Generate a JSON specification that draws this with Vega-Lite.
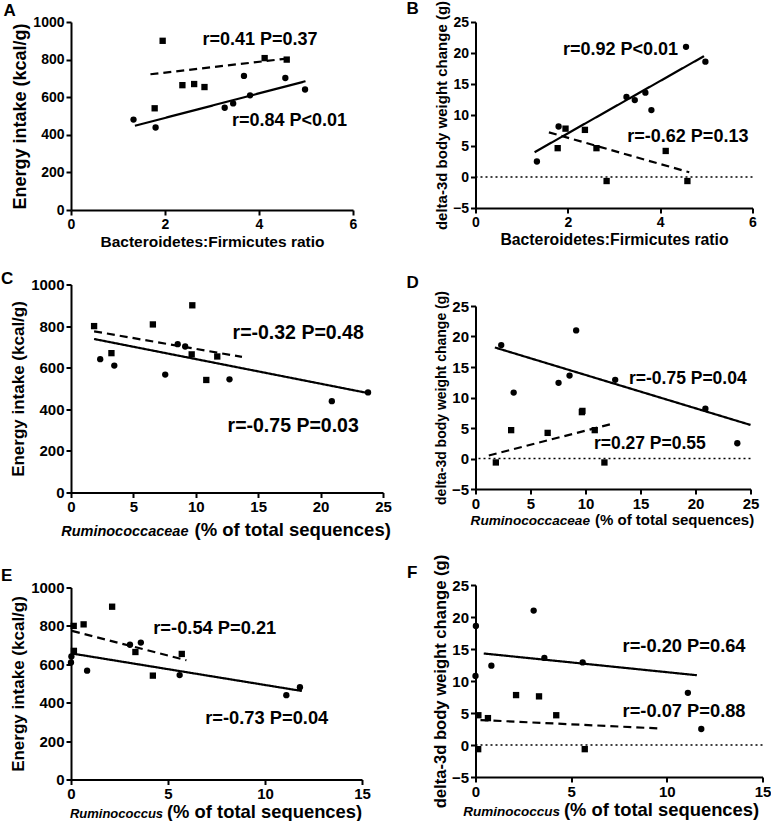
{
  "$schema": "https://vega.github.io/schema/vega-lite/v6.json",
  "padding": {"left": 1, "top": 0, "right": 0, "bottom": 0},
  "background": "white",
  "datasets": {
    "animals": [
      {"id": "c1", "g": "c", "bf": 1.33, "rumf": 23.8, "rum": 11.8, "energy": 481, "dbw": 2.5},
      {"id": "c2", "g": "c", "bf": 1.80, "rumf": 20.9, "rum": 11.1, "energy": 439, "dbw": 8.15},
      {"id": "c3", "g": "c", "bf": 3.27, "rumf": 12.7, "rum": 5.6, "energy": 544, "dbw": 12.9},
      {"id": "c4", "g": "c", "bf": 3.45, "rumf": 7.55, "rum": 0.83, "energy": 567, "dbw": 12.4},
      {"id": "c5", "g": "c", "bf": 3.68, "rumf": 8.55, "rum": 3.6, "energy": 713, "dbw": 13.6},
      {"id": "c6", "g": "c", "bf": 3.81, "rumf": 3.47, "rum": 0.0, "energy": 610, "dbw": 10.8},
      {"id": "c7", "g": "c", "bf": 4.56, "rumf": 9.15, "rum": 3.04, "energy": 702, "dbw": 21.0},
      {"id": "c8", "g": "c", "bf": 4.98, "rumf": 2.34, "rum": 0.02, "energy": 641, "dbw": 18.6},
      {"id": "s1", "g": "s", "bf": 1.78, "rumf": 10.84, "rum": 4.22, "energy": 541, "dbw": 4.65},
      {"id": "s2", "g": "s", "bf": 1.95, "rumf": 9.72, "rum": 2.12, "energy": 900, "dbw": 7.8},
      {"id": "s3", "g": "s", "bf": 2.37, "rumf": 9.67, "rum": 3.32, "energy": 664, "dbw": 7.6},
      {"id": "s4", "g": "s", "bf": 2.62, "rumf": 3.24, "rum": 0.15, "energy": 670, "dbw": 4.65},
      {"id": "s5", "g": "s", "bf": 2.84, "rumf": 11.72, "rum": 5.71, "energy": 654, "dbw": -0.65},
      {"id": "s6", "g": "s", "bf": 4.12, "rumf": 6.56, "rum": 0.65, "energy": 808, "dbw": 4.2},
      {"id": "s7", "g": "s", "bf": 4.59, "rumf": 1.85, "rum": 0.14, "energy": 800, "dbw": -0.65}
    ],
    "lines": [
      {"panel": "A", "g": "solid", "bf": 1.36, "energy": 448}, {"panel": "A", "g": "solid", "bf": 4.99, "energy": 685},
      {"panel": "A", "g": "dashed", "bf": 1.69, "energy": 722}, {"panel": "A", "g": "dashed", "bf": 4.62, "energy": 806},
      {"panel": "B", "g": "solid", "bf": 1.28, "dbw": 4.0}, {"panel": "B", "g": "solid", "bf": 4.95, "dbw": 19.5},
      {"panel": "B", "g": "dashed", "bf": 1.59, "dbw": 7.2}, {"panel": "B", "g": "dashed", "bf": 4.63, "dbw": 0.76},
      {"panel": "C", "g": "solid", "rumf": 1.85, "energy": 738}, {"panel": "C", "g": "solid", "rumf": 23.8, "energy": 478},
      {"panel": "C", "g": "dashed", "rumf": 1.85, "energy": 775}, {"panel": "C", "g": "dashed", "rumf": 13.7, "energy": 652},
      {"panel": "D", "g": "solid", "rumf": 1.76, "dbw": 18.2}, {"panel": "D", "g": "solid", "rumf": 25.0, "dbw": 5.5},
      {"panel": "D", "g": "dashed", "rumf": 1.21, "dbw": 0.5}, {"panel": "D", "g": "dashed", "rumf": 12.45, "dbw": 5.7},
      {"panel": "E", "g": "solid", "rum": 0.0, "energy": 657}, {"panel": "E", "g": "solid", "rum": 11.9, "energy": 461},
      {"panel": "E", "g": "dashed", "rum": 0.05, "energy": 774}, {"panel": "E", "g": "dashed", "rum": 5.95, "energy": 621},
      {"panel": "F", "g": "solid", "rum": 0.43, "dbw": 14.3}, {"panel": "F", "g": "solid", "rum": 11.57, "dbw": 10.9},
      {"panel": "F", "g": "dashed", "rum": 0.26, "dbw": 3.9}, {"panel": "F", "g": "dashed", "rum": 9.53, "dbw": 2.6}
    ],
    "notes": [
      {"panel": "A", "bf": 4.02, "energy": 905, "label": "r=0.41 P=0.37"},
      {"panel": "A", "bf": 4.65, "energy": 471, "label": "r=0.84 P<0.01"},
      {"panel": "B", "bf": 3.14, "dbw": 20.5, "label": "r=0.92 P<0.01"},
      {"panel": "B", "bf": 4.6, "dbw": 6.5, "label": "r=-0.62 P=0.13"},
      {"panel": "C", "rumf": 18.2, "energy": 767, "label": "r=-0.32 P=0.48"},
      {"panel": "C", "rumf": 17.8, "energy": 321, "label": "r=-0.75 P=0.03"},
      {"panel": "D", "rumf": 19.3, "dbw": 13.0, "label": "r=-0.75 P=0.04"},
      {"panel": "D", "rumf": 15.85, "dbw": 2.3, "label": "r=0.27 P=0.55"},
      {"panel": "E", "rum": 7.41, "energy": 786, "label": "r=-0.54 P=0.21"},
      {"panel": "E", "rum": 10.09, "energy": 317, "label": "r=-0.73 P=0.04"},
      {"panel": "F", "rum": 10.9, "dbw": 15.35, "label": "r=-0.20 P=0.64"},
      {"panel": "F", "rum": 10.9, "dbw": 5.1, "label": "r=-0.07 P=0.88"}
    ],
    "zero": [{"dbw": 0}]
  },
  "hconcat": [
    {
      "spacing": 27.5,
      "vconcat": [
        {
          "spacing": 19.5,
          "vconcat": [
            {
              "width": 282, "height": 188,
              "title": {"text": "A", "offset": -5, "dx": -67.5},
              "encoding": {
                "x": {"field": "bf", "type": "quantitative", "scale": {"domain": [0, 6], "nice": false, "zero": false},
                  "axis": {"values": [0, 2, 4, 6], "title": "Bacteroidetes:Firmicutes ratio", "titleFontSize": 15.5, "titleY": 36, "titleBaseline": "alphabetic"}},
                "y": {"field": "energy", "type": "quantitative", "scale": {"domain": [0, 1000], "nice": false, "zero": false},
                  "axis": {"values": [0, 200, 400, 600, 800, 1000], "format": "d", "title": "Energy intake (kcal/g)", "titleFontSize": 18}}
              },
              "layer": [
                {
                  "data": {"name": "animals"},
                  "mark": {"type": "point", "filled": true, "opacity": 1, "color": "black", "size": 40},
                  "encoding": {
                    "shape": {"field": "g", "type": "nominal", "scale": {"domain": ["c", "s"], "range": ["circle", "square"]}, "legend": null}
                  }
                },
                {
                  "data": {"name": "lines"},
                  "transform": [{"filter": "datum.panel === 'A'"}],
                  "mark": {"type": "line", "color": "black", "strokeWidth": 2.2},
                  "encoding": {
                    "detail": {"field": "g", "type": "nominal"},
                    "strokeDash": {"field": "g", "type": "nominal", "scale": {"domain": ["solid", "dashed"], "range": [[1, 0], [8, 5]]}, "legend": null}
                  }
                },
                {
                  "data": {"name": "notes"},
                  "transform": [{"filter": "datum.panel === 'A'"}],
                  "mark": {"type": "text", "fontSize": 18, "fontWeight": "bold", "color": "black"},
                  "encoding": {"text": {"field": "label"}}
                }
              ]
            },
            {
              "width": 312, "height": 208,
              "title": {"text": "C", "offset": -10.8, "dx": -70},
              "resolve": {"axis": {"x": "independent"}},
              "encoding": {
                "y": {"field": "energy", "type": "quantitative", "scale": {"domain": [0, 1000], "nice": false, "zero": false},
                  "axis": {"values": [0, 200, 400, 600, 800, 1000], "format": "d", "labelFontSize": 15, "title": "Energy intake (kcal/g)", "titleFontSize": 17}}
              },
              "layer": [
                {
                  "data": {"name": "animals"},
                  "mark": {"type": "point", "filled": true, "opacity": 1, "color": "black", "size": 40},
                  "encoding": {
                    "x": {"field": "rumf", "type": "quantitative", "scale": {"domain": [0, 25], "nice": false, "zero": false},
                      "axis": {"orient": "bottom", "values": [0, 5, 10, 15, 20, 25], "labelFontSize": 15, "title": "(% of total sequences)", "titleFontSize": 18.5, "titleAlign": "left", "titleX": 123, "titleY": 42.5, "titleBaseline": "alphabetic"}},
                    "shape": {"field": "g", "type": "nominal", "scale": {"domain": ["c", "s"], "range": ["circle", "square"]}, "legend": null}
                  }
                },
                {
                  "data": {"name": "lines"},
                  "transform": [{"filter": "datum.panel === 'C'"}],
                  "mark": {"type": "line", "color": "black", "strokeWidth": 2.2},
                  "encoding": {
                    "x": {"field": "rumf", "type": "quantitative",
                      "axis": {"orient": "bottom", "labels": false, "ticks": false, "domain": false, "title": "Ruminococcaceae", "titleFontStyle": "italic", "titleFontSize": 14.5, "titleAlign": "right", "titleX": 117, "titleY": 42.5, "titleBaseline": "alphabetic"}},
                    "detail": {"field": "g", "type": "nominal"},
                    "strokeDash": {"field": "g", "type": "nominal", "scale": {"domain": ["solid", "dashed"], "range": [[1, 0], [8, 5]]}, "legend": null}
                  }
                },
                {
                  "data": {"name": "notes"},
                  "transform": [{"filter": "datum.panel === 'C'"}],
                  "mark": {"type": "text", "fontSize": 19.5, "fontWeight": "bold", "color": "black"},
                  "encoding": {
                    "x": {"field": "rumf", "type": "quantitative", "axis": null},
                    "text": {"field": "label"}
                  }
                }
              ]
            }
          ]
        },
        {
          "width": 291, "height": 192,
          "title": {"text": "E", "offset": -4.2, "dx": -70},
          "resolve": {"axis": {"x": "independent"}},
          "encoding": {
            "y": {"field": "energy", "type": "quantitative", "scale": {"domain": [0, 1000], "nice": false, "zero": false},
              "axis": {"values": [0, 200, 400, 600, 800, 1000], "format": "d", "labelFontSize": 15, "title": "Energy intake (kcal/g)", "titleFontSize": 17}}
          },
          "layer": [
            {
              "data": {"name": "animals"},
              "mark": {"type": "point", "filled": true, "opacity": 1, "color": "black", "size": 40},
              "encoding": {
                "x": {"field": "rum", "type": "quantitative", "scale": {"domain": [0, 15], "nice": false, "zero": false},
                  "axis": {"orient": "bottom", "values": [0, 5, 10, 15], "labelFontSize": 15, "title": "(% of total sequences)", "titleFontSize": 18.4, "titleAlign": "left", "titleX": 95.5, "titleY": 38, "titleBaseline": "alphabetic"}},
                "shape": {"field": "g", "type": "nominal", "scale": {"domain": ["c", "s"], "range": ["circle", "square"]}, "legend": null}
              }
            },
            {
              "data": {"name": "lines"},
              "transform": [{"filter": "datum.panel === 'E'"}],
              "mark": {"type": "line", "color": "black", "strokeWidth": 2.2},
              "encoding": {
                "x": {"field": "rum", "type": "quantitative",
                  "axis": {"orient": "bottom", "labels": false, "ticks": false, "domain": false, "title": "Ruminococcus", "titleFontStyle": "italic", "titleFontSize": 13, "titleAlign": "right", "titleX": 91.6, "titleY": 38, "titleBaseline": "alphabetic"}},
                "detail": {"field": "g", "type": "nominal"},
                "strokeDash": {"field": "g", "type": "nominal", "scale": {"domain": ["solid", "dashed"], "range": [[1, 0], [8, 5]]}, "legend": null}
              }
            },
            {
              "data": {"name": "notes"},
              "transform": [{"filter": "datum.panel === 'E'"}],
              "mark": {"type": "text", "fontSize": 18.3, "fontWeight": "bold", "color": "black"},
              "encoding": {
                "x": {"field": "rum", "type": "quantitative", "axis": null},
                "text": {"field": "label"}
              }
            }
          ]
        }
      ]
    },
    {
      "spacing": 26,
      "vconcat": [
        {
          "spacing": 27,
          "vconcat": [
            {
              "width": 277, "height": 186,
              "title": {"text": "B", "offset": -18, "dx": -69},
              "resolve": {"axis": {"x": "independent"}},
              "encoding": {
                "y": {"field": "dbw", "type": "quantitative", "scale": {"domain": [-5, 25], "nice": false, "zero": false},
                  "axis": {"values": [-5, 0, 5, 10, 15, 20, 25], "title": "delta-3d body weight change (g)", "titleFontSize": 15}}
              },
              "layer": [
                {
                  "data": {"name": "zero"},
                  "mark": {"type": "rule", "color": "black", "strokeWidth": 1.5, "strokeDash": [2, 3]},
                  "encoding": {}
                },
                {
                  "data": {"name": "animals"},
                  "mark": {"type": "point", "filled": true, "opacity": 1, "color": "black", "size": 40},
                  "encoding": {
                    "x": {"field": "bf", "type": "quantitative", "scale": {"domain": [0, 6], "nice": false, "zero": false},
                      "axis": {"orient": "bottom", "values": [0, 2, 4, 6], "title": "Bacteroidetes:Firmicutes ratio", "titleFontSize": 15.8, "titleY": 36, "titleBaseline": "alphabetic"}},
                    "shape": {"field": "g", "type": "nominal", "scale": {"domain": ["c", "s"], "range": ["circle", "square"]}, "legend": null}
                  }
                },
                {
                  "data": {"name": "lines"},
                  "transform": [{"filter": "datum.panel === 'B'"}],
                  "mark": {"type": "line", "color": "black", "strokeWidth": 2.2},
                  "encoding": {
                    "x": {"field": "bf", "type": "quantitative", "axis": null},
                    "detail": {"field": "g", "type": "nominal"},
                    "strokeDash": {"field": "g", "type": "nominal", "scale": {"domain": ["solid", "dashed"], "range": [[1, 0], [8, 5]]}, "legend": null}
                  }
                },
                {
                  "data": {"name": "notes"},
                  "transform": [{"filter": "datum.panel === 'B'"}],
                  "mark": {"type": "text", "fontSize": 18, "fontWeight": "bold", "color": "black"},
                  "encoding": {
                    "x": {"field": "bf", "type": "quantitative", "axis": null},
                    "text": {"field": "label"}
                  }
                }
              ]
            },
            {
              "width": 275, "height": 183,
              "title": {"text": "D", "offset": -1.5, "dx": -69},
              "resolve": {"axis": {"x": "independent"}},
              "encoding": {
                "y": {"field": "dbw", "type": "quantitative", "scale": {"domain": [-5, 25], "nice": false, "zero": false},
                  "axis": {"values": [-5, 0, 5, 10, 15, 20, 25], "labelFontSize": 15, "title": "delta-3d body weight change (g)", "titleFontSize": 14}}
              },
              "layer": [
                {
                  "data": {"name": "zero"},
                  "mark": {"type": "rule", "color": "black", "strokeWidth": 1.5, "strokeDash": [2, 3]},
                  "encoding": {}
                },
                {
                  "data": {"name": "animals"},
                  "mark": {"type": "point", "filled": true, "opacity": 1, "color": "black", "size": 40},
                  "encoding": {
                    "x": {"field": "rumf", "type": "quantitative", "scale": {"domain": [0, 25], "nice": false, "zero": false},
                      "axis": {"orient": "bottom", "values": [0, 5, 10, 15, 20, 25], "labelFontSize": 15, "title": "(% of total sequences)", "titleFontSize": 15, "titleAlign": "left", "titleX": 119, "titleY": 35.5, "titleBaseline": "alphabetic"}},
                    "shape": {"field": "g", "type": "nominal", "scale": {"domain": ["c", "s"], "range": ["circle", "square"]}, "legend": null}
                  }
                },
                {
                  "data": {"name": "lines"},
                  "transform": [{"filter": "datum.panel === 'D'"}],
                  "mark": {"type": "line", "color": "black", "strokeWidth": 2.2},
                  "encoding": {
                    "x": {"field": "rumf", "type": "quantitative",
                      "axis": {"orient": "bottom", "labels": false, "ticks": false, "domain": false, "title": "Ruminococcaceae", "titleFontStyle": "italic", "titleFontSize": 13.6, "titleAlign": "right", "titleX": 114, "titleY": 35.5, "titleBaseline": "alphabetic"}},
                    "detail": {"field": "g", "type": "nominal"},
                    "strokeDash": {"field": "g", "type": "nominal", "scale": {"domain": ["solid", "dashed"], "range": [[1, 0], [8, 5]]}, "legend": null}
                  }
                },
                {
                  "data": {"name": "notes"},
                  "transform": [{"filter": "datum.panel === 'D'"}],
                  "mark": {"type": "text", "fontSize": 17.5, "fontWeight": "bold", "color": "black"},
                  "encoding": {
                    "x": {"field": "rumf", "type": "quantitative", "axis": null},
                    "text": {"field": "label"}
                  }
                }
              ]
            }
          ]
        },
        {
          "width": 287, "height": 192,
          "title": {"text": "F", "offset": -27.3, "dx": -68.5},
          "resolve": {"axis": {"x": "independent"}},
          "encoding": {
            "y": {"field": "dbw", "type": "quantitative", "scale": {"domain": [-5, 25], "nice": false, "zero": false},
              "axis": {"values": [-5, 0, 5, 10, 15, 20, 25], "labelFontSize": 15, "title": "delta-3d body weight change (g)", "titleFontSize": 16.6}}
          },
          "layer": [
            {
              "data": {"name": "zero"},
              "mark": {"type": "rule", "color": "black", "strokeWidth": 1.5, "strokeDash": [2, 3]},
              "encoding": {}
            },
            {
              "data": {"name": "animals"},
              "mark": {"type": "point", "filled": true, "opacity": 1, "color": "black", "size": 40},
              "encoding": {
                "x": {"field": "rum", "type": "quantitative", "scale": {"domain": [0, 15], "nice": false, "zero": false},
                  "axis": {"orient": "bottom", "values": [0, 5, 10, 15], "labelFontSize": 15, "title": "(% of total sequences)", "titleFontSize": 18.4, "titleAlign": "left", "titleX": 88, "titleY": 38.5, "titleBaseline": "alphabetic"}},
                "shape": {"field": "g", "type": "nominal", "scale": {"domain": ["c", "s"], "range": ["circle", "square"]}, "legend": null}
              }
            },
            {
              "data": {"name": "lines"},
              "transform": [{"filter": "datum.panel === 'F'"}],
              "mark": {"type": "line", "color": "black", "strokeWidth": 2.2},
              "encoding": {
                "x": {"field": "rum", "type": "quantitative",
                  "axis": {"orient": "bottom", "labels": false, "ticks": false, "domain": false, "title": "Ruminococcus", "titleFontStyle": "italic", "titleFontSize": 13.5, "titleAlign": "right", "titleX": 84, "titleY": 38.5, "titleBaseline": "alphabetic"}},
                "detail": {"field": "g", "type": "nominal"},
                "strokeDash": {"field": "g", "type": "nominal", "scale": {"domain": ["solid", "dashed"], "range": [[1, 0], [8, 5]]}, "legend": null}
              }
            },
            {
              "data": {"name": "notes"},
              "transform": [{"filter": "datum.panel === 'F'"}],
              "mark": {"type": "text", "fontSize": 18.3, "fontWeight": "bold", "color": "black"},
              "encoding": {
                "x": {"field": "rum", "type": "quantitative", "axis": null},
                "text": {"field": "label"}
              }
            }
          ]
        }
      ]
    }
  ],
  "spacing": 14.5,
  "config": {
    "font": "Liberation Sans",
    "view": {"stroke": null},
    "axis": {
      "grid": false,
      "domainColor": "black", "domainWidth": 2,
      "tickColor": "black", "tickWidth": 2, "tickSize": 5,
      "labelColor": "black", "labelFont": "Liberation Sans", "labelFontWeight": "bold", "labelFontSize": 14, "labelPadding": 2,
      "labelFlush": false, "labelOverlap": false,
      "titleColor": "black", "titleFont": "Liberation Sans", "titleFontWeight": "bold", "titlePadding": 3
    },
    "title": {"anchor": "start", "frame": "group", "fontSize": 17, "fontWeight": "bold", "color": "black", "baseline": "alphabetic", "font": "Liberation Sans"},
    "text": {"font": "Liberation Sans"}
  }
}
